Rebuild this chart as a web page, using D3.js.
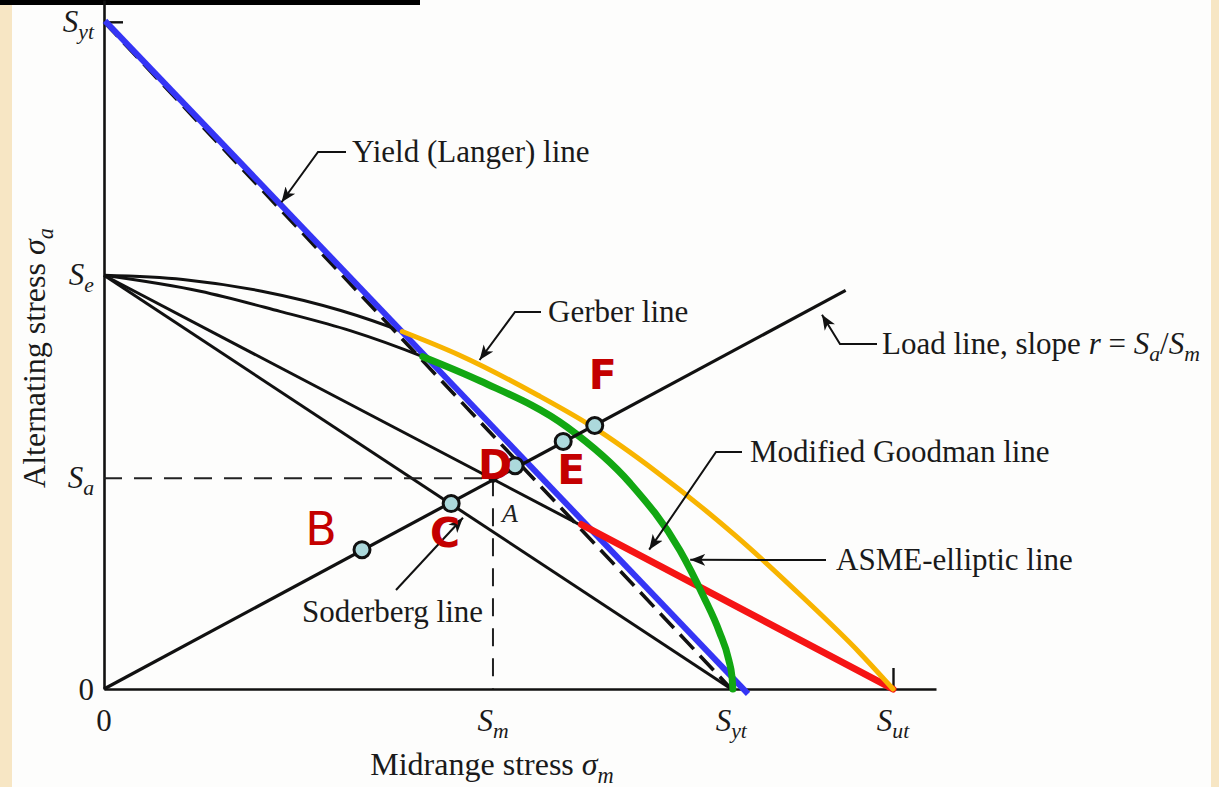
<!DOCTYPE html>
<html>
<head>
<meta charset="utf-8">
<script src="https://cdn.jsdelivr.net/npm/d3@7"></script>
<style>
  html, body { margin: 0; padding: 0; background: #f7e6c4; }
  svg { display: block; }
</style>
</head>
<body>
<svg id="chart" width="1219" height="787"></svg>
<script>
// ---- Strength values (stress units) ----
const Sut = 100;    // ultimate tensile strength
const Syt = 79.5;   // yield strength
const Se = 49.3;    // endurance limit
const Sm = 49.3;    // midrange component of point A
const Sa = 25.1;    // alternating component of point A

// ---- Failure curves (midrange, alternating) ----
const gerberSm = [0, 10, 20, 30, 37.8, 45, 55, 62.0, 70, 80, 88.6, 95.8, 100];
const gerberSa = [49.3, 48.8, 47.4, 45.1, 42.6, 39.8, 35.0, 31.2, 25.9, 18.3, 10.9, 4.3, 0];
const gerberHighlightFrom = 4;   // Gerber segment beyond the Langer line

const asmeSm = [0, 12.2, 22.3, 31.2, 40.4, 47.7, 58.7, 66.7, 73.0, 76.0, 78.0, 79.2, 79.6, 79.7];
const asmeSa = [49.3, 47.4, 45.0, 42.7, 39.6, 36.7, 31.2, 24.5, 16.5, 11.0, 6.8, 3.4, 1.4, 0];
const asmeHighlightFrom = 4;     // ASME segment beyond the Langer line

const langerSm = [0, Syt];
const langerSa = [Syt, 0];
const langerHighlightSm = [0, 81.5];
const langerHighlightSa = [Syt, -0.7];

const goodmanSm = [0, Sut];
const goodmanSa = [Se, 0];
const goodmanHighlightSm = [60.5, Sut];
const goodmanHighlightSa = [19.6, 0];

const soderbergSm = [0, Syt];
const soderbergSa = [Se, 0];

const loadSm = [0, 94.0];
const loadSa = [0, 47.5];

// ---- Marked points on the load line ----
const pointNames = ["B", "C", "D", "E", "F"];
const pointSm = [32.7, 44.0, 52.1, 58.2, 62.2];
const pointSa = [16.6, 22.1, 26.6, 29.5, 31.4];

// ---- Axis tick labels ----
const xTickValues = [Sm, Syt, Sut];
const xTickMain = ["S", "S", "S"];
const xTickSub = ["m", "yt", "ut"];
const yTickValues = [Syt, Se, Sa];
const yTickMain = ["S", "S", "S"];
const yTickSub = ["yt", "e", "a"];

const zip = (a, b) => a.map((v, i) => [v, b[i]]);

const W = 1219, H = 787;
const svg = d3.select("#chart");
const serif = "'Liberation Serif', 'Times New Roman', serif";

// page backdrop
svg.append("rect").attr("width", W).attr("height", H).attr("fill", "#f7e6c4");
svg.append("rect").attr("x", 12).attr("y", 0).attr("width", 1199).attr("height", H).attr("fill", "#fdfdfc");
svg.append("rect").attr("x", 0).attr("y", 0).attr("width", 420).attr("height", 5).attr("fill", "#000");

// ---- Scales ----
const x = d3.scaleLinear().domain([0, 105.45]).range([104, 936]);
const y = d3.scaleLinear().domain([0, 82.1]).range([689, 0]);

const line = d3.line().x(d => x(d[0])).y(d => y(d[1]));
const curve = d3.line().x(d => x(d[0])).y(d => y(d[1])).curve(d3.curveMonotoneX);

// arrow head for leader lines
const defs = svg.append("defs");
defs.append("marker")
  .attr("id", "arrow")
  .attr("markerUnits", "userSpaceOnUse")
  .attr("viewBox", "-15 -7 16 14")
  .attr("refX", 0).attr("refY", 0)
  .attr("markerWidth", 16).attr("markerHeight", 14)
  .attr("orient", "auto")
  .append("path")
  .attr("d", "M0,0 L-15,-6 L-11,0 L-15,6 Z")
  .attr("fill", "#111");

// ---- Axes ----
const xAxis = svg.append("g")
  .attr("transform", `translate(0,${y(0)})`)
  .call(d3.axisBottom(x).tickValues([Syt, Sut]).tickSize(-21).tickSizeOuter(0).tickFormat(""));
const yAxis = svg.append("g")
  .attr("transform", `translate(${x(0)},0)`)
  .call(d3.axisLeft(y).tickValues([Syt]).tickSize(-19).tickSizeOuter(0).tickFormat(""));
[xAxis, yAxis].forEach(g => {
  g.select(".domain").attr("stroke", "#111").attr("stroke-width", 2.6);
  g.selectAll(".tick line").attr("stroke", "#111").attr("stroke-width", 2.4);
});

// ---- Black construction lines ----
const black = svg.append("g").attr("fill", "none").attr("stroke", "#111").attr("stroke-width", 3);
black.append("path").attr("d", curve(zip(gerberSm, gerberSa)));
black.append("path").attr("d", curve(zip(asmeSm, asmeSa)));
black.append("path").attr("d", line(zip(goodmanSm, goodmanSa)));
black.append("path").attr("d", line(zip(soderbergSm, soderbergSa)));
black.append("path").attr("d", line(zip(langerSm, langerSa)))
  .attr("stroke-width", 3.6).attr("stroke-dasharray", "20,9");

// dashed guides to point A
const guides = svg.append("g").attr("fill", "none").attr("stroke", "#222")
  .attr("stroke-width", 2).attr("stroke-dasharray", "18,12");
guides.append("path").attr("d", line([[0, Sa], [Sm, Sa]]));
guides.append("path").attr("d", line([[Sm, Sa], [Sm, 0]]));

// ---- Coloured highlights ----
const hi = svg.append("g").attr("fill", "none").attr("stroke-linecap", "round");
hi.append("path").attr("d", line(zip(langerHighlightSm, langerHighlightSa)))
  .attr("transform", "translate(1,-1)")
  .attr("stroke", "#3535f5").attr("stroke-width", 6).attr("stroke-linecap", "butt");
hi.append("path").attr("d", line(zip(goodmanHighlightSm, goodmanHighlightSa)))
  .attr("stroke", "#f51414").attr("stroke-width", 7);
hi.append("path").attr("d", curve(zip(asmeSm, asmeSa).slice(asmeHighlightFrom)))
  .attr("stroke", "#12a712").attr("stroke-width", 7);
hi.append("path").attr("d", curve(zip(gerberSm, gerberSa).slice(gerberHighlightFrom)))
  .attr("stroke", "#f8b400").attr("stroke-width", 5);

// ---- Load line ----
svg.append("path").attr("d", line(zip(loadSm, loadSa)))
  .attr("fill", "none").attr("stroke", "#111").attr("stroke-width", 3.2);

// ---- Point A ----
svg.append("circle").attr("cx", x(Sm)).attr("cy", y(Sa)).attr("r", 4.5).attr("fill", "#111");
svg.append("text").attr("x", x(Sm) + 9).attr("y", y(Sa) + 44)
  .attr("font-family", serif).attr("font-style", "italic").attr("font-size", 26)
  .attr("fill", "#222").text("A");

// ---- Rich text helper (italic / subscript runs) ----
function richText(g, runs, size) {
  const t = g.append("text").attr("font-family", serif).attr("font-size", size).attr("fill", "#1a1a1a");
  let inSub = false;
  const shift = Math.round(size * 0.24);
  runs.forEach(r => {
    const s = t.append("tspan").text(r.t);
    if (r.i) s.attr("font-style", "italic");
    if (r.sub && !inSub) { s.attr("dy", shift); inSub = true; }
    else if (!r.sub && inSub) { s.attr("dy", -shift); inSub = false; }
    if (r.sub) s.attr("font-size", size * 0.7);
  });
  return t;
}

// ---- Annotations with leader arrows ----
const annotations = [
  { runs: [{ t: "Yield (Langer) line" }], tip: [22.5, 58.0], path: [[346, 152], [318, 152]], tx: 352, ty: 162 },
  { runs: [{ t: "Gerber line" }], tip: [47.6, 39.2], path: [[541, 312], [515, 312]], tx: 548, ty: 322 },
  { runs: [{ t: "Load line, slope " }, { t: "r", i: true }, { t: " = " }, { t: "S", i: true }, { t: "a", i: true, sub: true },
           { t: "/" }, { t: "S", i: true }, { t: "m", i: true, sub: true }],
    tip: [91.0, 44.6], path: [[877, 344], [840, 344]], tx: 882, ty: 354 },
  { runs: [{ t: "Modified Goodman line" }], tip: [69.1, 16.6], path: [[742, 452], [716, 452]], tx: 750, ty: 462 },
  { runs: [{ t: "ASME-elliptic line" }], tip: [74.3, 15.4], path: [[826, 560]], tx: 836, ty: 570 },
  { runs: [{ t: "Soderberg line" }], tip: [45.5, 20.4], path: [[396, 590]], tx: 302, ty: 622 }
];
const ann = svg.append("g");
annotations.forEach(a => {
  const pts = a.path.concat([[x(a.tip[0]), y(a.tip[1])]]);
  ann.append("path").attr("d", d3.line()(pts))
    .attr("fill", "none").attr("stroke", "#111").attr("stroke-width", 2)
    .attr("marker-end", "url(#arrow)");
  richText(ann, a.runs, 31).attr("x", a.tx).attr("y", a.ty);
});

// ---- Marked points ----
const pts = pointNames.map((n, i) => ({ name: n, sm: pointSm[i], sa: pointSa[i] }));
svg.append("g").selectAll("circle").data(pts).join("circle")
  .attr("cx", d => x(d.sm)).attr("cy", d => y(d.sa)).attr("r", 8)
  .attr("fill", "#acd9dc").attr("stroke", "#111").attr("stroke-width", 3);

const letterOffset = { B: [-41, -21], C: [-6, 29], D: [-20, -1], E: [8, 29], F: [8, -50] };
svg.append("g").selectAll("text").data(pts).join("text")
  .attr("x", d => x(d.sm) + letterOffset[d.name][0])
  .attr("y", d => y(d.sa) + letterOffset[d.name][1])
  .attr("text-anchor", "middle").attr("dominant-baseline", "central")
  .attr("font-family", "'DejaVu Sans', sans-serif")
  .attr("font-weight", d => d.name === "B" ? "normal" : "bold")
  .attr("font-size", d => d.name === "B" ? 46 : 41)
  .attr("fill", "#c40000")
  .text(d => d.name);

// ---- Tick labels ----
const tl = svg.append("g");
richText(tl, [{ t: "0" }], 31).attr("x", x(0)).attr("y", 731).attr("text-anchor", "middle");
richText(tl, [{ t: "0" }], 31).attr("x", 94).attr("y", y(0) + 11).attr("text-anchor", "end");
xTickValues.forEach((v, i) => {
  richText(tl, [{ t: xTickMain[i], i: true }, { t: xTickSub[i], i: true, sub: true }], 31)
    .attr("x", x(v)).attr("y", 731).attr("text-anchor", "middle");
});
yTickValues.forEach((v, i) => {
  richText(tl, [{ t: yTickMain[i], i: true }, { t: yTickSub[i], i: true, sub: true }], 31)
    .attr("x", 94).attr("y", y(v) + 10).attr("text-anchor", "end");
});

// ---- Axis titles ----
richText(svg, [{ t: "Midrange stress " }, { t: "σ", i: true }, { t: "m", i: true, sub: true }], 32)
  .attr("x", 492).attr("y", 775).attr("text-anchor", "middle");
richText(svg, [{ t: "Alternating stress " }, { t: "σ", i: true }, { t: "a", i: true, sub: true }], 32)
  .attr("text-anchor", "middle")
  .attr("transform", "translate(45,358) rotate(-90)");
</script>
</body>
</html>
